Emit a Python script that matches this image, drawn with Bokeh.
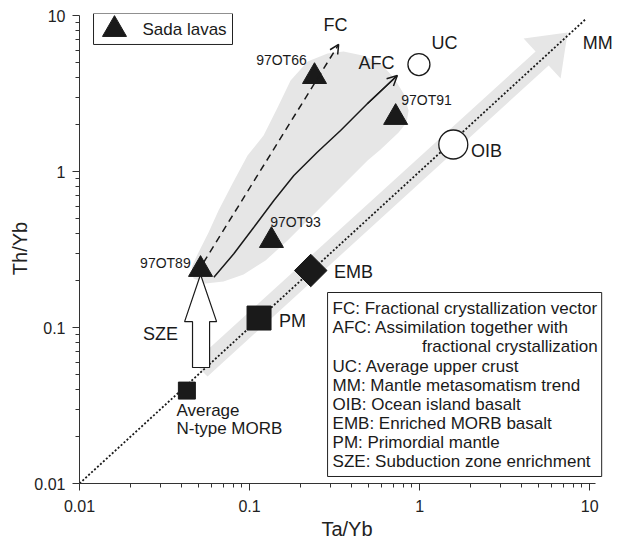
import numpy as np
from bokeh.plotting import figure
from bokeh.models import Range1d, FixedTicker, CustomJSTickFormatter, Arrow, OpenHead
from bokeh.core.properties import value
from bokeh.embed import file_html
from bokeh.resources import INLINE

FONT = "Liberation Sans"
INK = "#1a1a1a"
SHADE = "#e6e6e6"

# ---------------- data (Ta/Yb, Th/Yb) ----------------
lava_names = ["97OT89", "97OT66", "97OT93", "97OT91"]
lava_ta = [0.0515, 0.241, 0.1345, 0.723]
lava_th = [0.2355, 4.06, 0.361, 2.22]

nmorb_ta = [0.0428]
nmorb_th = [0.0394]
pm_ta = [0.1137]
pm_th = [0.115]
emb_ta = [0.229]
emb_th = [0.232]
oib_ta = [1.578]
oib_th = [1.49]
uc_ta = [0.991]
uc_th = [4.85]

# mantle array (Th/Yb = Ta/Yb)
array_ta = [0.01, 9.5]
array_th = [0.01, 9.5]

# MM trend band (shaded arrow)
mmband_ta = [0.0469, 4.81, 4.09, 7.42, 6.75, 5.74, 0.0566]
mmband_th = [0.0597, 5.88, 7.12, 7.78, 3.95, 4.78, 0.0485]

# Sada lava field (shaded)
field_ta = [0.0703, 0.0551, 0.0468, 0.0456, 0.0494, 0.0574, 0.0657, 0.0794, 0.0973,
            0.1209, 0.1462, 0.1743, 0.2195, 0.2876, 0.3571, 0.4622, 0.5897, 0.7035,
            0.805, 0.8615, 0.8385, 0.7524, 0.5897, 0.4945, 0.3078, 0.205, 0.1673,
            0.1242, 0.0922]
field_th = [0.1972, 0.1915, 0.2061, 0.2424, 0.2937, 0.4064, 0.5623, 0.8377, 1.266,
            1.701, 2.572, 3.831, 5.07, 5.706, 5.877, 5.54, 4.924, 4.006,
            3.162, 2.46, 2.061, 1.778, 1.384, 1.176, 0.7017, 0.4507, 0.3611,
            0.2689, 0.2187]

# FC vector
fc_ta = [0.0536, 0.334]
fc_th = [0.261, 6.52]

# AFC curve
afc_ta = [0.0617, 0.0808, 0.106, 0.139, 0.1822, 0.2501, 0.343, 0.4925, 0.7394]
afc_th = [0.2101, 0.2969, 0.4395, 0.6517, 0.9427, 1.329, 1.831, 2.716, 4.125]

# SZE block arrow
sze_ta = [0.0462, 0.0462, 0.0415, 0.0515, 0.064, 0.0582, 0.0582]
sze_th = [0.0554, 0.109, 0.109, 0.2188, 0.109, 0.109, 0.0554]

major_ticks = [0.01, 0.1, 1, 10]
minor_ticks = [k * 10.0 ** e for e in (-2, -1, 0) for k in range(2, 10)]

key_lines = [
    "FC: Fractional crystallization vector",
    "AFC: Assimilation together with",
    "",
    "UC: Average upper crust",
    "MM: Mantle metasomatism trend",
    "OIB: Ocean island basalt",
    "EMB: Enriched MORB basalt",
    "PM: Primordial mantle",
    "SZE: Subduction zone enrichment",
]
key_cont = "fractional crystallization"

# ---------------- figure ----------------
p = figure(width=624, height=542, x_axis_type="log", y_axis_type="log",
           x_range=Range1d(0.01, 14), y_range=Range1d(0.01, 10.3),
           output_backend="svg", toolbar_location=None,
           min_border_left=79, min_border_right=10, min_border_top=13, min_border_bottom=59)
p.outline_line_color = None
p.grid.visible = False
p.background_fill_color = "white"
p.border_fill_color = "white"

fmt = CustomJSTickFormatter(code="return tick.toString();")
for ax in (p.xaxis[0], p.yaxis[0]):
    ax.ticker = FixedTicker(ticks=major_ticks, minor_ticks=minor_ticks)
    ax.formatter = fmt
    ax.axis_line_color = "#333333"
    ax.major_tick_line_color = "#333333"
    ax.minor_tick_line_color = "#333333"
    ax.major_tick_out = 7
    ax.major_tick_in = 0
    ax.minor_tick_out = 4
    ax.minor_tick_in = 0
    ax.major_label_text_font = FONT
    ax.major_label_text_font_size = "16px"
    ax.major_label_text_color = "#222222"
    ax.axis_label_text_font = FONT
    ax.axis_label_text_font_size = "20px"
    ax.axis_label_text_font_style = "normal"
    ax.axis_label_text_color = "#222222"

p.xaxis[0].bounds = (0.01, 10.8)
p.yaxis[0].bounds = (0.01, 10)
p.xaxis[0].axis_label = "Ta/Yb"
p.yaxis[0].axis_label = "Th/Yb"
p.xaxis[0].major_label_standoff = 9
p.xaxis[0].axis_label_standoff = 3
p.yaxis[0].major_label_standoff = 7
p.yaxis[0].axis_label_standoff = 0

# shaded areas
p.patch(mmband_ta, mmband_th, fill_color=SHADE, line_color=None)
p.patch(field_ta, field_th, fill_color=SHADE, line_color=None)

# mantle array dotted line
p.line(array_ta, array_th, line_color=INK, line_width=1.8, line_dash="2 2")

# FC dashed arrow
p.add_layout(Arrow(x_start=fc_ta[0], y_start=fc_th[0], x_end=fc_ta[1], y_end=fc_th[1],
                   line_color=INK, line_width=1.5, line_dash="7 5",
                   end=OpenHead(size=9, line_color=INK, line_width=1.5)))

# AFC curve with arrow head
p.line(afc_ta, afc_th, line_color=INK, line_width=1.5)
p.add_layout(Arrow(x_start=afc_ta[-2], y_start=afc_th[-2], x_end=afc_ta[-1], y_end=afc_th[-1],
                   line_color=INK, line_width=1.5,
                   end=OpenHead(size=10, line_color=INK, line_width=1.5)))

# SZE arrow
p.patch(sze_ta, sze_th, fill_color="white", line_color=INK, line_width=1.2)

# reference compositions
p.scatter(nmorb_ta, nmorb_th, marker="square", size=17, fill_color=INK, line_color=INK)
p.scatter(pm_ta, pm_th, marker="square", size=24, fill_color=INK, line_color=INK)
p.scatter(emb_ta, emb_th, marker="square", size=23, angle=np.pi / 4,
          fill_color=INK, line_color=INK)
p.scatter(uc_ta, uc_th, marker="circle", size=22, fill_color="white", line_color=INK, line_width=1.3)
p.scatter(oib_ta, oib_th, marker="circle", size=29, fill_color="white", line_color=INK, line_width=1.3)

# Sada lavas
p.scatter(lava_ta, lava_th, marker="triangle", size=24, fill_color=INK, line_color=INK)

txt = dict(text_font=value(FONT), text_color=INK, text_baseline="middle")

# sample labels
p.text(x=[0.032, 0.154, 0.1865, 1.099], y=[0.261, 5.22, 0.478, 2.852],
       text=lava_names, text_font_size="14px", text_align="center", **txt)

# trend / end-member labels
p.text(x=[0.3206, 0.5586, 1.403, 11.15, 2.477, 0.409, 0.179, 0.02996],
       y=[8.63, 4.996, 6.71, 6.71, 1.363, 0.2253, 0.1093, 0.0902],
       text=["FC", "AFC", "UC", "MM", "OIB", "EMB", "PM", "SZE"],
       text_font_size="18px", text_align="center", **txt)

p.text(x=[0.0372, 0.0372], y=[0.02938, 0.02236], text=["Average", "N-type MORB"],
       text_font_size="17px", text_align="left", **txt)

# legend box
p.quad(left=[0.01209], right=[0.0794], top=[10.3], bottom=[6.52],
       fill_color="white", line_color="#222222", line_width=1)
p.scatter([0.01606], [8.134], marker="triangle", size=24, fill_color=INK, line_color=INK)
p.text(x=[0.02347], y=[8.134], text=["Sada lavas"], text_font_size="17px", text_align="left", **txt)

# key box
p.quad(left=[0.2876], right=[11.77], top=[0.1676], bottom=[0.01109],
       fill_color="white", line_color="#222222", line_width=1)
key_y = 0.1318 * 10.0 ** (-0.1224 * np.arange(len(key_lines)))
p.text(x=[0.3078] * len(key_lines), y=list(key_y), text=key_lines,
       text_font_size="17px", text_align="left", **txt)
p.text(x=[11.15], y=[key_y[2]], text=[key_cont], text_font_size="17px", text_align="right", **txt)

open("out.html", "w").write(file_html(p, INLINE))
